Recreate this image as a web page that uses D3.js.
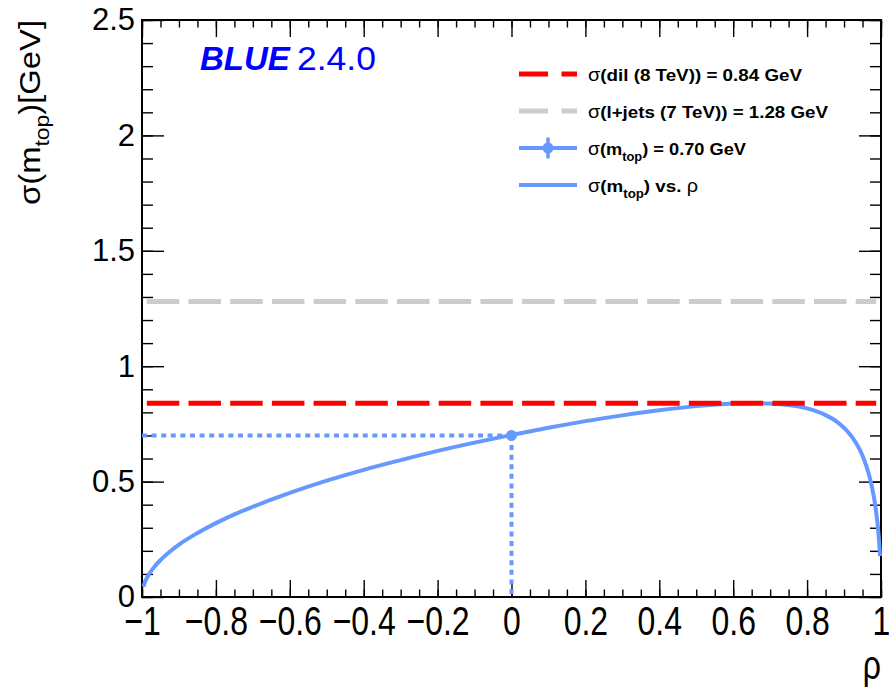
<!DOCTYPE html>
<html><head><meta charset="utf-8">
<script src="https://cdn.jsdelivr.net/npm/d3@7"></script>
<style>body{margin:0;background:#fff}svg{display:block}</style>
</head><body>
<svg id="c" width="889" height="694"></svg>
<script>
// ---- data ----
const rho = [-0.996,-0.993,-0.99,-0.98,-0.97,-0.95,-0.925,-0.9,-0.85,-0.8,-0.75,-0.7,-0.6,-0.5,-0.4,-0.3,-0.2,-0.1,0,0.1,0.2,0.3,0.4,0.5,0.6,0.65,0.7,0.75,0.8,0.85,0.88,0.9,0.92,0.94,0.95,0.96,0.97,0.98,0.985,0.99,0.993,0.995,0.9973];
const sigmaVsRho = [0.045,0.060,0.072,0.101,0.124,0.160,0.196,0.227,0.277,0.320,0.358,0.391,0.451,0.504,0.551,0.593,0.633,0.669,0.702,0.733,0.762,0.787,0.809,0.827,0.838,0.840,0.838,0.832,0.817,0.788,0.760,0.733,0.697,0.646,0.612,0.569,0.515,0.440,0.390,0.327,0.278,0.238,0.177];
const sigmaDil = 0.84;
const sigmaLjets = 1.28;
const sigmaComb = 0.70;
const rhoComb = 0;
const refLineRange = [-0.987, 0.987];
const xMajorTicks = [-1,-0.8,-0.6,-0.4,-0.2,0,0.2,0.4,0.6,0.8,1];
const xTickLabels = ["\u22121","\u22120.8","\u22120.6","\u22120.4","\u22120.2","0","0.2","0.4","0.6","0.8","1"];
const yMajorTicks = [0,0.5,1,1.5,2,2.5];
const yTickLabels = ["0","0.5","1","1.5","2","2.5"];
const legendLabels = [
  ["σ","(dil (8 TeV)) = 0.84 GeV", null, null],
  ["σ","(l+jets (7 TeV)) = 1.28 GeV", null, null],
  ["σ","(m", "top", ") = 0.70 GeV"],
  ["σ","(m", "top", ") vs.  ρ"]
];

// ---- layout ----
const L=142,R=881,T=20,B=597;
const font = "'Liberation Sans', Arial, Helvetica, sans-serif";
const blue = "#6699ff";
const svg = d3.select("#c");
svg.append("rect").attr("width",889).attr("height",694).attr("fill","#fff");

const x = d3.scaleLinear().domain([-1,1]).range([L,R]);
const y = d3.scaleLinear().domain([0,2.5]).range([B,T]);

function styleAxis(g){
  g.select(".domain").remove();
  g.selectAll(".tick line").attr("stroke","#000").attr("stroke-width",1.4);
  g.selectAll("text").attr("font-family",font).attr("font-size",31).attr("fill","#000");
}
const xMinor = x.ticks(40);
const yMinor = y.ticks(25);

// bottom
svg.append("g").attr("transform",`translate(0,${B})`)
  .call(d3.axisBottom(x).tickValues(xMinor).tickSizeInner(-7.5).tickSizeOuter(0).tickFormat(""))
  .call(styleAxis);
svg.append("g").attr("transform",`translate(0,${B})`)
  .call(d3.axisBottom(x).tickValues(xMajorTicks).tickSizeInner(-17).tickSizeOuter(0).tickPadding(8.5)
    .tickFormat((d,i)=>xTickLabels[i]))
  .call(styleAxis)
  .call(g=>g.selectAll("text").attr("font-size",41).attr("transform","scale(0.78,1)"));
// top
svg.append("g").attr("transform",`translate(0,${T})`)
  .call(d3.axisTop(x).tickValues(xMinor).tickSizeInner(-7.5).tickSizeOuter(0).tickFormat(""))
  .call(styleAxis);
svg.append("g").attr("transform",`translate(0,${T})`)
  .call(d3.axisTop(x).tickValues(xMajorTicks).tickSizeInner(-17).tickSizeOuter(0).tickFormat(""))
  .call(styleAxis);
// left
svg.append("g").attr("transform",`translate(${L},0)`)
  .call(d3.axisLeft(y).tickValues(yMinor).tickSizeInner(-11).tickSizeOuter(0).tickFormat(""))
  .call(styleAxis);
svg.append("g").attr("transform",`translate(${L},0)`)
  .call(d3.axisLeft(y).tickValues(yMajorTicks).tickSizeInner(-22).tickSizeOuter(0).tickPadding(7)
    .tickFormat((d,i)=>yTickLabels[i]))
  .call(styleAxis);
// right
svg.append("g").attr("transform",`translate(${R},0)`)
  .call(d3.axisRight(y).tickValues(yMinor).tickSizeInner(-11).tickSizeOuter(0).tickFormat(""))
  .call(styleAxis);
svg.append("g").attr("transform",`translate(${R},0)`)
  .call(d3.axisRight(y).tickValues(yMajorTicks).tickSizeInner(-22).tickSizeOuter(0).tickFormat(""))
  .call(styleAxis);

// frame
svg.append("rect").attr("x",L).attr("y",T).attr("width",R-L).attr("height",B-T)
  .attr("fill","none").attr("stroke","#000").attr("stroke-width",2);

// reference lines
svg.append("line").attr("x1",x(refLineRange[0])).attr("x2",x(refLineRange[1]))
  .attr("y1",y(sigmaLjets)).attr("y2",y(sigmaLjets))
  .attr("stroke","#cccccc").attr("stroke-width",5).attr("stroke-dasharray","32.5,9.2");

// curve
const curve = d3.line().x((d,i)=>x(rho[i])).y(d=>y(d)).curve(d3.curveMonotoneX);
svg.append("path").attr("d",curve(sigmaVsRho)).attr("fill","none")
  .attr("stroke",blue).attr("stroke-width",4);

svg.append("line").attr("x1",x(refLineRange[0])).attr("x2",x(refLineRange[1]))
  .attr("y1",y(sigmaDil)).attr("y2",y(sigmaDil))
  .attr("stroke","#ff0000").attr("stroke-width",5).attr("stroke-dasharray","32.5,9.2");

// dotted projection lines
svg.append("line").attr("x1",x(-1)).attr("x2",x(rhoComb)).attr("y1",y(sigmaComb)).attr("y2",y(sigmaComb))
  .attr("stroke",blue).attr("stroke-width",4).attr("stroke-dasharray","5,4.6");
svg.append("line").attr("x1",x(rhoComb)).attr("x2",x(rhoComb)).attr("y1",y(sigmaComb)).attr("y2",y(0))
  .attr("stroke",blue).attr("stroke-width",4).attr("stroke-dasharray","5,4.6");
svg.append("circle").attr("cx",x(rhoComb)).attr("cy",y(sigmaComb)).attr("r",5.5).attr("fill",blue);

// BLUE label
svg.append("text").attr("x",200).attr("y",70).attr("font-family",font).attr("font-size",33)
  .attr("font-weight","bold").attr("font-style","italic").attr("fill","#0000ff").text("BLUE");
svg.append("text").attr("x",297).attr("y",70).attr("font-family",font).attr("font-size",33)
  .attr("fill","#0000ff").attr("textLength",79).attr("lengthAdjust","spacingAndGlyphs").text("2.4.0");

// legend
const rowY = [74,111,148,185];
const textLen = [214,240,158,110];
const lx1=519,lx2=577,tx=588;
const lg = svg.append("g");
lg.append("line").attr("x1",lx1).attr("x2",lx2).attr("y1",rowY[0]).attr("y2",rowY[0])
  .attr("stroke","#ff0000").attr("stroke-width",5).attr("stroke-dasharray","29,13.5");
lg.append("line").attr("x1",lx1).attr("x2",lx2).attr("y1",rowY[1]).attr("y2",rowY[1])
  .attr("stroke","#cccccc").attr("stroke-width",5).attr("stroke-dasharray","29,13.5");
lg.append("line").attr("x1",lx1).attr("x2",lx2).attr("y1",rowY[2]).attr("y2",rowY[2])
  .attr("stroke",blue).attr("stroke-width",4);
lg.append("line").attr("x1",(lx1+lx2)/2).attr("x2",(lx1+lx2)/2).attr("y1",rowY[2]-10.5).attr("y2",rowY[2]+10.5)
  .attr("stroke",blue).attr("stroke-width",3.5);
lg.append("circle").attr("cx",(lx1+lx2)/2).attr("cy",rowY[2]).attr("r",5.5).attr("fill",blue);
lg.append("line").attr("x1",lx1).attr("x2",lx2).attr("y1",rowY[3]).attr("y2",rowY[3])
  .attr("stroke",blue).attr("stroke-width",4);

legendLabels.forEach((lab,i)=>{
  const t = lg.append("text").attr("x",tx).attr("y",rowY[i]+7).attr("font-family",font)
    .attr("font-size",17).attr("font-weight","bold").attr("fill","#000")
    .attr("textLength",textLen[i]).attr("lengthAdjust","spacingAndGlyphs");
  t.append("tspan").attr("font-weight","normal").attr("font-size",18).text(lab[0]);
  t.append("tspan").text(lab[1]);
  if(lab[2]){
    t.append("tspan").attr("font-size",12).attr("dy",6).text(lab[2]);
    const parts = lab[3].split("ρ");
    t.append("tspan").attr("dy",-6).text(parts[0]);
    if(parts.length>1) t.append("tspan").attr("font-weight","normal").attr("font-size",18).text("ρ");
  }
});

// axis titles
const yt = svg.append("text").attr("transform",`translate(40,${T}) rotate(-90)`).attr("text-anchor","end")
  .attr("font-family",font).attr("font-size",30).attr("fill","#000")
  .attr("textLength",185).attr("lengthAdjust","spacingAndGlyphs");
yt.append("tspan").text("σ(m");
yt.append("tspan").attr("font-size",21).attr("dy",9).text("top");
yt.append("tspan").attr("dy",-9).text(")[GeV]");

svg.append("text").attr("transform",`translate(${R},679) scale(0.8,1)`).attr("text-anchor","end").attr("font-family",font)
  .attr("font-size",40).attr("fill","#000").text("ρ");
</script>
</body></html>
